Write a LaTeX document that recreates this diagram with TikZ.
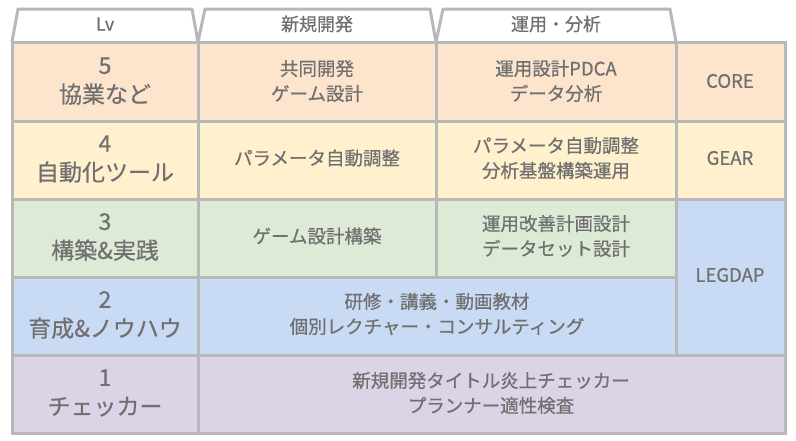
\documentclass[tikz,border=0pt]{standalone}
\usepackage{fontspec}
\setmainfont{Noto Sans CJK JP}
\newfontfamily\med{Noto Sans CJK JP}[FakeBold=0.6]
\definecolor{bd}{HTML}{B8B8B8}
\definecolor{tx}{HTML}{707070}
\definecolor{cA}{HTML}{FCE4CD}
\definecolor{cB}{HTML}{FFF1CE}
\definecolor{cC}{HTML}{DDEAD6}
\definecolor{cD}{HTML}{C9DAF4}
\definecolor{cE}{HTML}{DCD3E7}
\begin{document}
\begin{tikzpicture}[x=1pt,y=-1pt,
  cell/.style={draw=bd,line width=3pt},
  tab/.style={draw=bd,line width=3pt,fill=white,line join=round},
  big/.style={text=tx,align=center,font=\med\fontsize{23}{29}\selectfont},
  mid/.style={text=tx,align=center,font=\med\fontsize{18.5}{25}\selectfont},
  hd/.style={text=tx,align=center,font=\med\fontsize{18}{20}\selectfont}]
\useasboundingbox (0,0) rectangle (796,440);
% tabs
\draw[tab] (12,42) -- (18,9) -- (192,9) -- (198,42);
\draw[tab] (198,42) -- (205,9) -- (430,9) -- (436,42);
\draw[tab] (436,42) -- (443,9) -- (670,9) -- (676,42);
\node[hd] (h1) at (105,24) {Lv};
\node[hd] (h2) at (317,24) {新規開発};
\node[hd] (h3) at (556,24) {運用・分析};
% fills
\fill[cA] (12,42) rectangle (785,121);
\fill[cB] (12,121) rectangle (785,199);
\fill[cC] (12,199) rectangle (676,277);
\fill[cD] (12,277) rectangle (676,355);
\fill[cD] (676,199) rectangle (785,355);
\fill[cE] (12,355) rectangle (785,433);
% grid
\draw[cell] (12,42) rectangle (785,433);
\draw[cell] (12,121) -- (785,121);
\draw[cell] (12,199) -- (785,199);
\draw[cell] (12,277) -- (676,277);
\draw[cell] (12,355) -- (785,355);
\draw[cell] (198,42) -- (198,433);
\draw[cell] (436,42) -- (436,277);
\draw[cell] (676,42) -- (676,355);
% texts
\node[big] (l5) at (105,81) {5\\協業など};
\node[big] (l4) at (105,159) {4\\自動化ツール};
\node[big] (l3) at (105,237) {3\\構築\&実践};
\node[big] (l2) at (105,315) {2\\育成\&ノウハウ};
\node[big] (l1) at (105,393) {1\\チェッカー};
\node[mid] (a5) at (317,81) {共同開発\\ゲーム設計};
\node[mid] (b5) at (556,81) {運用設計PDCA\\データ分析};
\node[mid] (c5) at (730,81) {CORE};
\node[mid] (a4) at (317,158) {パラメータ自動調整};
\node[mid] (b4) at (556,158) {パラメータ自動調整\\分析基盤構築運用};
\node[mid] (c4) at (730,158) {GEAR};
\node[mid] (a3) at (317,236) {ゲーム設計構築};
\node[mid] (b3) at (556,236) {運用改善計画設計\\データセット設計};
\node[mid] (c3) at (730,275) {LEGDAP};
\node[mid] (a2) at (437,314) {研修・講義・動画教材\\個別レクチャー・コンサルティング};
\node[mid] (a1) at (491,393) {新規開発タイトル炎上チェッカー\\プランナー適性検査};
\end{tikzpicture}
\end{document}
